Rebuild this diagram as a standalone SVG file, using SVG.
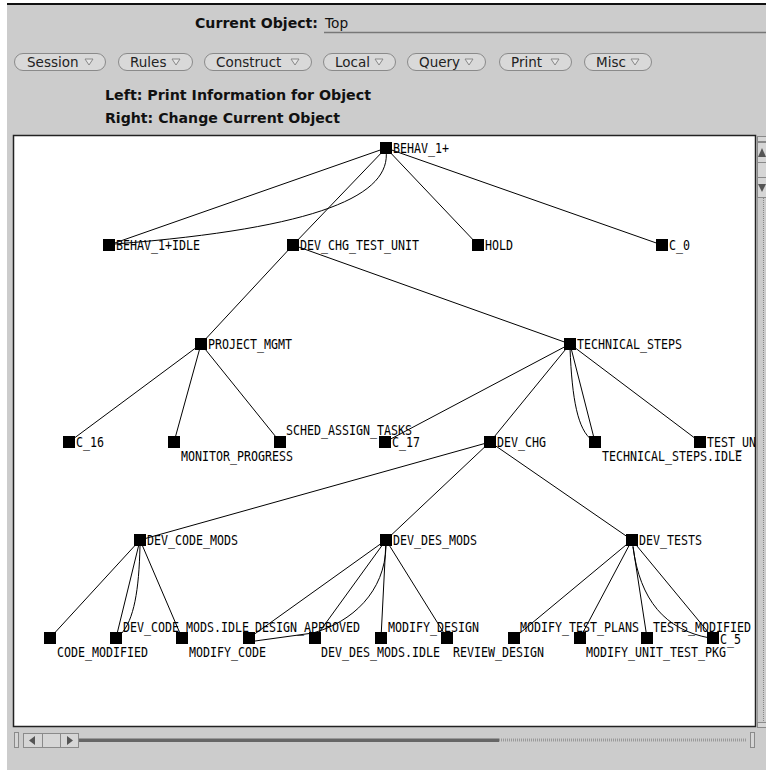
<svg xmlns="http://www.w3.org/2000/svg" width="766" height="770" viewBox="0 0 766 770">
<defs>
<style>
.pill{fill:#d9d9d9;stroke:#8a8a8a;stroke-width:1}
.btn{font-family:"DejaVu Sans",sans-serif;font-size:13.5px;fill:#222}
.tri{fill:#e6e6e6;stroke:#888;stroke-width:1}
.hdr{font-family:"DejaVu Sans",sans-serif;font-weight:bold;font-size:13.7px;fill:#111}
.reg{font-family:"DejaVu Sans",sans-serif;font-size:13.7px;fill:#111}
.edge{fill:none;stroke:#000;stroke-width:1}
.sq{fill:#000}
.lbl{font-family:"DejaVu Sans Mono","Liberation Mono",monospace;font-size:13.5px;fill:#000}
.sb{fill:#d6d6d6;stroke:#8a8a8a;stroke-width:1}
.arr{fill:#555}
</style>
<clipPath id="cv"><rect x="14" y="136" width="741" height="590"/></clipPath>
</defs>

<rect x="0" y="0" width="766" height="770" fill="#ffffff"/>
<rect x="7" y="4" width="759" height="766" fill="#cccccc"/>
<line x1="7" y1="4" x2="766" y2="4" stroke="#111" stroke-width="2"/>

<g id="header">
<text class="hdr" x="195" y="28" textLength="123" lengthAdjust="spacingAndGlyphs">Current Object:</text>
<text class="reg" x="325" y="28">Top</text>
<line x1="324" y1="32.5" x2="766" y2="32.5" stroke="#777" stroke-width="1.5"/>
<text class="hdr" x="105" y="100" textLength="266" lengthAdjust="spacingAndGlyphs">Left: Print Information for Object</text>
<text class="hdr" x="105" y="123" textLength="235" lengthAdjust="spacingAndGlyphs">Right: Change Current Object</text>
</g>

<g id="menu-buttons">
<g id="btn-session"><rect class="pill" x="14.5" y="53.5" width="91" height="17" rx="8.5"/><text class="btn" x="27" y="67">Session</text><polygon class="tri" points="85,59 93,59 89,65"/></g>
<g id="btn-rules"><rect class="pill" x="118.5" y="53.5" width="74" height="17" rx="8.5"/><text class="btn" x="130" y="67">Rules</text><polygon class="tri" points="172,59 180,59 176,65"/></g>
<g id="btn-construct"><rect class="pill" x="204.5" y="53.5" width="107" height="17" rx="8.5"/><text class="btn" x="216" y="67">Construct</text><polygon class="tri" points="291,59 299,59 295,65"/></g>
<g id="btn-local"><rect class="pill" x="323.5" y="53.5" width="72" height="17" rx="8.5"/><text class="btn" x="335" y="67">Local</text><polygon class="tri" points="375,59 383,59 379,65"/></g>
<g id="btn-query"><rect class="pill" x="407.5" y="53.5" width="78" height="17" rx="8.5"/><text class="btn" x="419" y="67">Query</text><polygon class="tri" points="465,59 473,59 469,65"/></g>
<g id="btn-print"><rect class="pill" x="499.5" y="53.5" width="72" height="17" rx="8.5"/><text class="btn" x="511" y="67">Print</text><polygon class="tri" points="551,59 559,59 555,65"/></g>
<g id="btn-misc"><rect class="pill" x="584.5" y="53.5" width="67" height="17" rx="8.5"/><text class="btn" x="596" y="67">Misc</text><polygon class="tri" points="631,59 639,59 635,65"/></g>
</g>

<rect id="canvas" x="13.5" y="135.5" width="742" height="591" fill="#ffffff" stroke="#222" stroke-width="1.5"/>

<g id="connectors" class="edge" clip-path="url(#cv)">
<path d="M386,148 L109,245"/>
<path d="M386,150 C392,195 320,228 115,244"/>
<path d="M386,148 L293,245"/>
<path d="M386,148 L478,245"/>
<path d="M386,148 L662,245"/>
<path d="M293,245 L201,344"/>
<path d="M293,245 L570,344"/>
<path d="M201,344 L69,442"/>
<path d="M201,344 L174,442"/>
<path d="M201,344 L280,442"/>
<path d="M570,344 L385,442"/>
<path d="M570,344 L490,442"/>
<path d="M570,344 L595,442"/>
<path d="M570,348 C572,400 578,430 592,440"/>
<path d="M570,344 L700,442"/>
<path d="M490,442 L140,540"/>
<path d="M490,442 L386,540"/>
<path d="M490,442 L632,540"/>
<path d="M140,540 L50,638"/>
<path d="M140,540 L116,638"/>
<path d="M140,546 C139,590 134,620 121,634"/>
<path d="M140,540 L182,638"/>
<path d="M386,540 L249,638"/>
<path d="M386,540 L315,638"/>
<path d="M386,546 C385,592 352,622 313,633 L255,641"/>
<path d="M386,540 L381,638"/>
<path d="M386,540 L447,638"/>
<path d="M632,540 L514,638"/>
<path d="M632,540 L580,638"/>
<path d="M632,540 L647,638"/>
<path d="M632,540 L713,638"/>
<path d="M633,547 C640,600 665,630 710,638"/>
</g>

<g id="nodes" clip-path="url(#cv)">
<g id="n-behav1"><rect class="sq" x="380" y="142" width="12" height="12"/><text class="lbl" x="393" y="153" textLength="56" lengthAdjust="spacingAndGlyphs">BEHAV_1+</text></g>
<g id="n-behav1-idle"><rect class="sq" x="103" y="239" width="12" height="12"/><text class="lbl" x="116" y="250" textLength="84" lengthAdjust="spacingAndGlyphs">BEHAV_1+IDLE</text></g>
<g id="n-dev-chg-test-unit"><rect class="sq" x="287" y="239" width="12" height="12"/><text class="lbl" x="300" y="250" textLength="119" lengthAdjust="spacingAndGlyphs">DEV_CHG_TEST_UNIT</text></g>
<g id="n-hold"><rect class="sq" x="472" y="239" width="12" height="12"/><text class="lbl" x="485" y="250" textLength="28" lengthAdjust="spacingAndGlyphs">HOLD</text></g>
<g id="n-c0"><rect class="sq" x="656" y="239" width="12" height="12"/><text class="lbl" x="669" y="250" textLength="21" lengthAdjust="spacingAndGlyphs">C_0</text></g>
<g id="n-project-mgmt"><rect class="sq" x="195" y="338" width="12" height="12"/><text class="lbl" x="208" y="349" textLength="84" lengthAdjust="spacingAndGlyphs">PROJECT_MGMT</text></g>
<g id="n-technical-steps"><rect class="sq" x="564" y="338" width="12" height="12"/><text class="lbl" x="577" y="349" textLength="105" lengthAdjust="spacingAndGlyphs">TECHNICAL_STEPS</text></g>
<g id="n-c16"><rect class="sq" x="63" y="436" width="12" height="12"/><text class="lbl" x="76" y="447" textLength="28" lengthAdjust="spacingAndGlyphs">C_16</text></g>
<g id="n-monitor-progress"><rect class="sq" x="168" y="436" width="12" height="12"/><text class="lbl" x="181" y="461" textLength="112" lengthAdjust="spacingAndGlyphs">MONITOR_PROGRESS</text></g>
<g id="n-sched-assign-tasks"><rect class="sq" x="274" y="436" width="12" height="12"/><text class="lbl" x="286" y="435" textLength="126" lengthAdjust="spacingAndGlyphs">SCHED_ASSIGN_TASKS</text></g>
<g id="n-c17"><rect class="sq" x="379" y="436" width="12" height="12"/><text class="lbl" x="392" y="447" textLength="28" lengthAdjust="spacingAndGlyphs">C_17</text></g>
<g id="n-dev-chg"><rect class="sq" x="484" y="436" width="12" height="12"/><text class="lbl" x="497" y="447" textLength="49" lengthAdjust="spacingAndGlyphs">DEV_CHG</text></g>
<g id="n-technical-steps-idle"><rect class="sq" x="589" y="436" width="12" height="12"/><text class="lbl" x="602" y="461" textLength="140" lengthAdjust="spacingAndGlyphs">TECHNICAL_STEPS.IDLE</text></g>
<g id="n-test-un"><rect class="sq" x="694" y="436" width="12" height="12"/><text class="lbl" x="707" y="447" textLength="49" lengthAdjust="spacingAndGlyphs">TEST_UN</text></g>
<g id="n-dev-code-mods"><rect class="sq" x="134" y="534" width="12" height="12"/><text class="lbl" x="147" y="545" textLength="91" lengthAdjust="spacingAndGlyphs">DEV_CODE_MODS</text></g>
<g id="n-dev-des-mods"><rect class="sq" x="380" y="534" width="12" height="12"/><text class="lbl" x="393" y="545" textLength="84" lengthAdjust="spacingAndGlyphs">DEV_DES_MODS</text></g>
<g id="n-dev-tests"><rect class="sq" x="626" y="534" width="12" height="12"/><text class="lbl" x="639" y="545" textLength="63" lengthAdjust="spacingAndGlyphs">DEV_TESTS</text></g>
<g id="n-code-modified"><rect class="sq" x="44" y="632" width="12" height="12"/><text class="lbl" x="57" y="657" textLength="91" lengthAdjust="spacingAndGlyphs">CODE_MODIFIED</text></g>
<g id="n-dev-code-mods-idle"><rect class="sq" x="110" y="632" width="12" height="12"/><text class="lbl" x="123" y="632" textLength="126" lengthAdjust="spacingAndGlyphs">DEV_CODE_MODS.IDLE</text></g>
<g id="n-modify-code"><rect class="sq" x="176" y="632" width="12" height="12"/><text class="lbl" x="189" y="657" textLength="77" lengthAdjust="spacingAndGlyphs">MODIFY_CODE</text></g>
<g id="n-design-approved"><rect class="sq" x="243" y="632" width="12" height="12"/><text class="lbl" x="255" y="632" textLength="105" lengthAdjust="spacingAndGlyphs">DESIGN_APPROVED</text></g>
<g id="n-dev-des-mods-idle"><rect class="sq" x="309" y="632" width="12" height="12"/><text class="lbl" x="321" y="657" textLength="119" lengthAdjust="spacingAndGlyphs">DEV_DES_MODS.IDLE</text></g>
<g id="n-modify-design"><rect class="sq" x="375" y="632" width="12" height="12"/><text class="lbl" x="388" y="632" textLength="91" lengthAdjust="spacingAndGlyphs">MODIFY_DESIGN</text></g>
<g id="n-review-design"><rect class="sq" x="441" y="632" width="12" height="12"/><text class="lbl" x="453" y="657" textLength="91" lengthAdjust="spacingAndGlyphs">REVIEW_DESIGN</text></g>
<g id="n-modify-test-plans"><rect class="sq" x="508" y="632" width="12" height="12"/><text class="lbl" x="520" y="632" textLength="119" lengthAdjust="spacingAndGlyphs">MODIFY_TEST_PLANS</text></g>
<g id="n-modify-unit-test-pkg"><rect class="sq" x="574" y="632" width="12" height="12"/><text class="lbl" x="586" y="657" textLength="140" lengthAdjust="spacingAndGlyphs">MODIFY_UNIT_TEST_PKG</text></g>
<g id="n-tests-modified"><rect class="sq" x="641" y="632" width="12" height="12"/><text class="lbl" x="653" y="632" textLength="98" lengthAdjust="spacingAndGlyphs">TESTS_MODIFIED</text></g>
<g id="n-c5"><rect class="sq" x="707" y="632" width="12" height="12"/><text class="lbl" x="720" y="644" textLength="21" lengthAdjust="spacingAndGlyphs">C_5</text></g>
</g>

<g id="v-scrollbar">
<rect class="sb" x="757.5" y="136.5" width="10" height="5"/>
<rect class="sb" x="757.5" y="142.5" width="10" height="20"/>
<polygon class="arr" points="758,157 766,157 762,148"/>
<rect class="sb" x="757.5" y="162.5" width="10" height="15"/>
<rect class="sb" x="757.5" y="177.5" width="10" height="20"/>
<polygon class="arr" points="758,184 766,184 762,192"/>
<line x1="763.5" y1="198" x2="763.5" y2="722" stroke="#888" stroke-width="1" stroke-dasharray="1,1"/>
<line x1="757.5" y1="198" x2="757.5" y2="722" stroke="#999" stroke-width="1"/>
<rect class="sb" x="757.5" y="722.5" width="10" height="5"/>
</g>

<g id="h-scrollbar">
<rect class="sb" x="14.5" y="732.5" width="4" height="15"/>
<rect class="sb" x="23.5" y="733.5" width="19" height="14"/>
<rect class="sb" x="42.5" y="733.5" width="18" height="14"/>
<rect class="sb" x="60.5" y="733.5" width="18" height="14"/>
<polygon class="arr" points="29,740.5 35,736 35,745"/>
<polygon class="arr" points="73,740.5 67,736 67,745"/>
<rect x="79" y="738.5" width="420" height="3.5" fill="#666"/>
<line x1="499" y1="740" x2="747" y2="740" stroke="#999" stroke-width="3" stroke-dasharray="1,1"/>
<rect class="sb" x="750.5" y="732.5" width="4" height="15"/>
</g>
</svg>
